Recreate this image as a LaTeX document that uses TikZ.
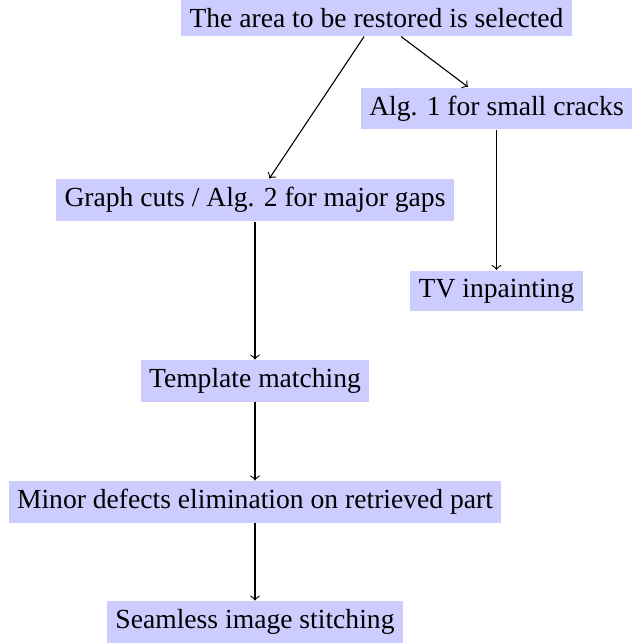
\documentclass[tikz,border=0pt]{standalone}
\usepackage{fontspec}
\setmainfont{Liberation Serif}

\tikzset{every picture/.style={line width=0.4pt}}
\tikzset{stepnode/.style={fill=blue!20, inner xsep=0.3em, inner ysep=0.3em, anchor=center}}

\begin{document}
\begin{tikzpicture}[x=0.3623pt,y=0.3623pt,yscale=-1,xscale=1]
\useasboundingbox (0,0) rectangle (644,643);

% Text Node
\node [stepnode] (select) at (376.5,18) {The area to be restored is selected};
% Text Node
\node [stepnode] (algone) at (496.5,108.5) {Alg. 1 for small cracks};
% Text Node
\node [stepnode] (graphcut) at (255,200) {Graph cuts / Alg. 2 for major gaps};
% Text Node
\node [stepnode] (tvinp) at (496.5,291) {TV inpainting};
% Text Node
\node [stepnode] (template) at (255,381) {Template matching};
% Text Node
\node [stepnode] (minor) at (255,502) {Minor defects elimination on retrieved part};
% Text Node
\node [stepnode] (stitch) at (255,622) {Seamless image stitching};

%Straight Lines
\draw [->] (select) -- (graphcut);
\draw [->] (select) -- (algone);
\draw [->] (algone) -- (tvinp);
\draw [->] (graphcut) -- (template);
\draw [->] (template) -- (minor);
\draw [->] (minor) -- (stitch);

\end{tikzpicture}
\end{document}
